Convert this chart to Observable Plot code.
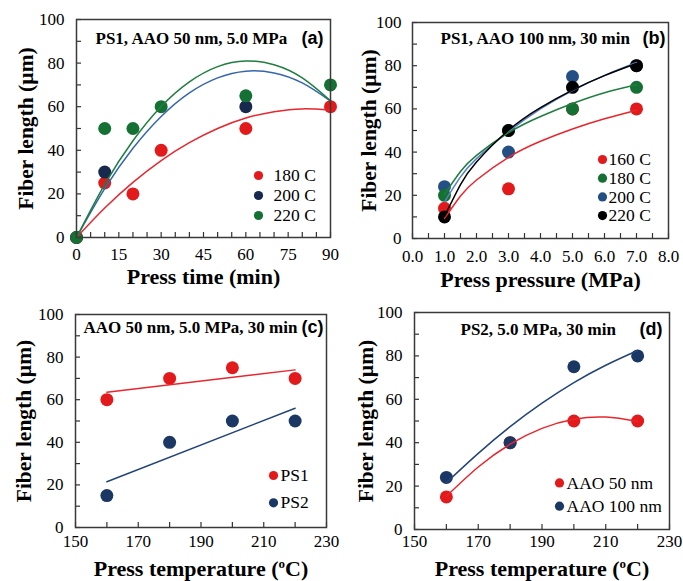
<!DOCTYPE html>
<html><head><meta charset="utf-8">
<script src="https://cdn.jsdelivr.net/npm/d3@7"></script>
<script src="https://cdn.jsdelivr.net/npm/@observablehq/plot@0.6"></script>
<style>
body{margin:0;background:#fff}
#fig{position:relative;width:683px;height:581px;background:#fff;overflow:hidden}
.panel{position:absolute}
</style></head><body><div id="fig"></div>
<script>
// ---------- Panel (a): press time ----------
const timeA180 = [0,10,20,30,60,90];
const lenA180  = [0,25,20,40,50,60];
const timeA200 = [0,10,60];
const lenA200  = [0,30,60];
const timeA220 = [0,10,20,30,60,90];
const lenA220  = [0,50,50,60,65,70];
const fitTimeA = [0,10,20,30,40,50,60,70,80,90];
const fitA180  = [0,13.5,25.3,35.3,43.5,50.0,54.8,57.7,59.0,58.4];
const fitA200  = [0,22.4,40.9,55.5,66.3,73.2,76.3,75.5,70.9,62.6];
const fitA220  = [0,24.4,44.4,60.1,71.4,78.4,81.0,79.2,73.2,62.7];
const ticksXA  = [0,15,30,45,60,75,90];

// ---------- Panel (b): press pressure ----------
const pressB   = [1,3,5,7];
const lenB160  = [14,23,60,60];
const lenB180  = [20,50,60,70];
const lenB200  = [24,40,75,80];
const lenB220  = [10,50,70,80];
const fitPressB = [1,1.5,2,3,4,5,6,7];
const fitB160  = [9.3,19.7,27.1,37.6,45.0,50.7,55.4,59.4];
const fitB180  = [20.5,31,38.5,49,56.5,62.5,67.5,71.2];
const fitB200  = [17,28.5,37,49.5,60,68.5,75.5,81.5];
const fitB220  = [10.2,24.9,35.4,50.1,60.6,68.7,75.4,81.0];
const ticksXB  = [0,1,2,3,4,5,6,7,8];

// ---------- Panel (c): press temperature, PS1 vs PS2 ----------
const tempC    = [160,180,200,220];
const lenCPS1  = [60,70,75,70];
const lenCPS2  = [15,40,50,50];

// ---------- Panel (d): press temperature, AAO 50 vs 100 nm ----------
const tempD    = [160,180,200,220];
const lenD50   = [15,40,50,50];
const lenD100  = [24,40,75,80];
const fitTempD = [160,170,180,190,200,210,220];
const fitD50   = [15.3,28.8,39.3,46.6,50.8,51.8,49.8];
const fitD100  = [21.6,35.1,47.4,58.2,67.7,75.7,82.5];
const ticksXT  = [150,170,190,210,230];

const ticksY   = [0,20,40,60,80,100];

const C = {
  red:"#e31a1c", redLine:"#e8262d",
  navyA:"#172a4e", blueLineA:"#3566ad",
  green:"#157034", greenLine:"#1f7d3e",
  blueB:"#244f85", blueLineB:"#5681c1",
  navy:"#1b3764", navyLine:"#22447a",
  black:"#000000"
};
const SERIF = "'Liberation Serif', Tinos, 'Times New Roman', Times, 'DejaVu Serif', serif";
const SANS = "'Liberation Sans', Arimo, Arial, sans-serif";

const zip = (xs, ys) => xs.map((x, i) => ({x, y: ys[i]}));
const range = (a, b, s) => d3.range(a, b + s / 2, s);

function panel(cfg) {
  const {left, top, width, height, m, xDomain, xMinor, xTicks, xFormat, xPad, yPad,
         series, regression, title, titleDx, titleDy, tag, tagDx, tagDy,
         legend, xLabel, xLabelDy, yLabelDx} = cfg;
  const W = width - m[1] - m[3], H = height - m[0] - m[2];
  const marks = [];
  for (const s of series) {
    marks.push(Plot.dot(zip(s.x, s.y), {x: "x", y: "y", r: 6.5, fill: s.color, stroke: "none"}));
  }
  for (const s of series) {
    if (s.fx) marks.push(Plot.line(zip(s.fx, s.fy), {x: "x", y: "y", stroke: s.line, strokeWidth: 1.5, curve: "natural"}));
    if (regression) marks.push(Plot.linearRegressionY(zip(s.x, s.y), {x: "x", y: "y", stroke: s.line, strokeWidth: 1.5, ci: 0}));
  }
  marks.push(Plot.ruleX(xMinor, {x: d => d, insetTop: H - 5, stroke: "#333", strokeWidth: 1.2}));
  marks.push(Plot.ruleY(range(0, 100, 10), {y: d => d, insetRight: W - 5, stroke: "#333", strokeWidth: 1.2}));
  marks.push(Plot.frame({stroke: "#3a3a3a", strokeWidth: 1.5}));
  marks.push(Plot.axisX(xTicks, {tickSize: 0, tickPadding: xPad, fontSize: 17, fontFamily: SERIF, tickFormat: xFormat, label: null}));
  marks.push(Plot.axisY(ticksY, {tickSize: 0, tickPadding: yPad, fontSize: 17, fontFamily: SERIF, label: null}));
  marks.push(Plot.text([xLabel], {x: null, y: null, frameAnchor: "bottom", dy: xLabelDy, lineAnchor: "middle", textAnchor: "middle", fontSize: 22, fontWeight: "bold", fontFamily: SERIF, fill: "#000"}));
  marks.push(Plot.text(["Fiber length (µm)"], {x: null, y: null, frameAnchor: "left", dx: yLabelDx, rotate: -90, lineAnchor: "middle", textAnchor: "middle", fontSize: 21.5, fontWeight: "bold", fontFamily: SERIF, fill: "#000"}));
  marks.push(Plot.text([title], {x: null, y: null, frameAnchor: "top-left", dx: titleDx, dy: titleDy, textAnchor: "start", lineAnchor: "middle", fontSize: 17, fontWeight: "bold", fontFamily: SERIF, fill: "#000"}));
  marks.push(Plot.text([tag], {x: null, y: null, frameAnchor: "top-right", dx: tagDx, dy: tagDy, textAnchor: "end", lineAnchor: "middle", fontSize: 18, fontWeight: "bold", fontFamily: SANS, fill: "#000"}));
  legend.items.forEach((it, i) => {
    marks.push(Plot.dot([it.name], {x: null, y: null, frameAnchor: "top-left", dx: legend.dotDx, dy: legend.dy + i * legend.step, r: 4.6, fill: it.color, stroke: "none"}));
    marks.push(Plot.text([it.name], {x: null, y: null, frameAnchor: "top-left", dx: legend.textDx, dy: legend.dy + i * legend.step, textAnchor: "start", lineAnchor: "middle", fontSize: 17.5, fontFamily: SERIF, fill: "#000"}));
  });

  const svg = Plot.plot({
    width, height,
    marginTop: m[0], marginRight: m[1], marginBottom: m[2], marginLeft: m[3],
    x: {domain: xDomain},
    y: {domain: [0, 100]},
    style: {fontFamily: SERIF, fontSize: "17px", color: "#000", background: "transparent", overflow: "visible"},
    marks
  });
  svg.classList.add("panel");
  svg.style.left = left + "px";
  svg.style.top = top + "px";
  // superscript "o" in the temperature unit
  svg.querySelectorAll("text").forEach(t => {
    if (t.textContent === "Press temperature (oC)") {
      const tgt = t.querySelector("tspan") || t;
      tgt.textContent = "";
      const ns = "http://www.w3.org/2000/svg";
      const parts = [["Press temperature (", null], ["o", "sup"], ["C)", "back"]];
      for (const [s, k] of parts) {
        const ts = document.createElementNS(ns, "tspan");
        ts.textContent = s;
        if (k === "sup") { ts.setAttribute("dy", "-8"); ts.setAttribute("font-size", "13"); }
        if (k === "back") { ts.setAttribute("dy", "8"); }
        tgt.appendChild(ts);
      }
    }
  });
  document.getElementById("fig").appendChild(svg);
}

// (a)
panel({
  left: 0, top: 0, width: 341, height: 290, m: [19, 11, 53, 76],
  xDomain: [0, 90], xMinor: range(0, 90, 5), xTicks: ticksXA, xFormat: d => d,
  xPad: 10, yPad: 12,
  series: [
    {x: timeA180, y: lenA180, color: C.red,   fx: fitTimeA, fy: fitA180, line: C.redLine},
    {x: timeA200, y: lenA200, color: C.navyA, fx: fitTimeA, fy: fitA200, line: C.blueLineA},
    {x: timeA220, y: lenA220, color: C.green, fx: fitTimeA, fy: fitA220, line: C.greenLine}
  ],
  title: "PS1, AAO 50 nm, 5.0 MPa", titleDx: 19, titleDy: 19,
  tag: "(a)", tagDx: -7, tagDy: 19,
  legend: {dotDx: 182, textDx: 197, dy: 156, step: 20,
    items: [{name: "180 C", color: C.red}, {name: "200 C", color: C.navyA}, {name: "220 C", color: C.green}]},
  xLabel: "Press time (min)", xLabelDy: 39, yLabelDx: -50
});

// (b)
panel({
  left: 342, top: 0, width: 341, height: 290, m: [22, 15, 52, 70],
  xDomain: [0, 8], xMinor: range(0, 8, 0.5), xTicks: ticksXB, xFormat: d => d.toFixed(1),
  xPad: 11, yPad: 11,
  series: [
    {x: pressB, y: lenB160, color: C.red,   fx: fitPressB, fy: fitB160, line: C.redLine},
    {x: pressB, y: lenB200, color: C.blueB, fx: fitPressB, fy: fitB200, line: C.blueLineB},
    {x: pressB, y: lenB180, color: C.green, fx: fitPressB, fy: fitB180, line: C.greenLine},
    {x: pressB, y: lenB220, color: C.black, fx: fitPressB, fy: fitB220, line: C.black}
  ],
  title: "PS1, AAO 100 nm, 30 min", titleDx: 28, titleDy: 16,
  tag: "(b)", tagDx: -3, tagDy: 16,
  legend: {dotDx: 190, textDx: 196, dy: 137, step: 18.7,
    items: [{name: "160 C", color: C.red}, {name: "180 C", color: C.green}, {name: "200 C", color: C.blueB}, {name: "220 C", color: C.black}]},
  xLabel: "Press pressure (MPa)", xLabelDy: 41, yLabelDx: -43
});

// (c)
panel({
  left: 0, top: 290, width: 341, height: 291, m: [24, 15, 54, 75],
  xDomain: [150, 230], xMinor: range(150, 230, 10), xTicks: ticksXT, xFormat: d => d,
  xPad: 7, yPad: 12, regression: true,
  series: [
    {x: tempC, y: lenCPS1, color: C.red,  line: C.redLine},
    {x: tempC, y: lenCPS2, color: C.navy, line: C.navyLine}
  ],
  title: "AAO 50 nm, 5.0 MPa, 30 min", titleDx: 8, titleDy: 13,
  tag: "(c)", tagDx: -3, tagDy: 13,
  legend: {dotDx: 198, textDx: 205, dy: 161, step: 27.3,
    items: [{name: "PS1", color: C.red}, {name: "PS2", color: C.navy}]},
  xLabel: "Press temperature (oC)", xLabelDy: 41, yLabelDx: -51
});

// (d)
panel({
  left: 342, top: 290, width: 341, height: 291, m: [22, 14, 52, 72],
  xDomain: [150, 230], xMinor: range(150, 230, 10), xTicks: ticksXT, xFormat: d => d,
  xPad: 5, yPad: 12,
  series: [
    {x: tempD, y: lenD50,  color: C.red,  fx: fitTempD, fy: fitD50,  line: C.redLine},
    {x: tempD, y: lenD100, color: C.navy, fx: fitTempD, fy: fitD100, line: C.navyLine}
  ],
  title: "PS2, 5.0 MPa, 30 min", titleDx: 46, titleDy: 17,
  tag: "(d)", tagDx: -7, tagDy: 17,
  legend: {dotDx: 145, textDx: 152, dy: 170.4, step: 23.3,
    items: [{name: "AAO 50 nm", color: C.red}, {name: "AAO 100 nm", color: C.navy}]},
  xLabel: "Press temperature (oC)", xLabelDy: 39, yLabelDx: -48
});
</script></body></html>
